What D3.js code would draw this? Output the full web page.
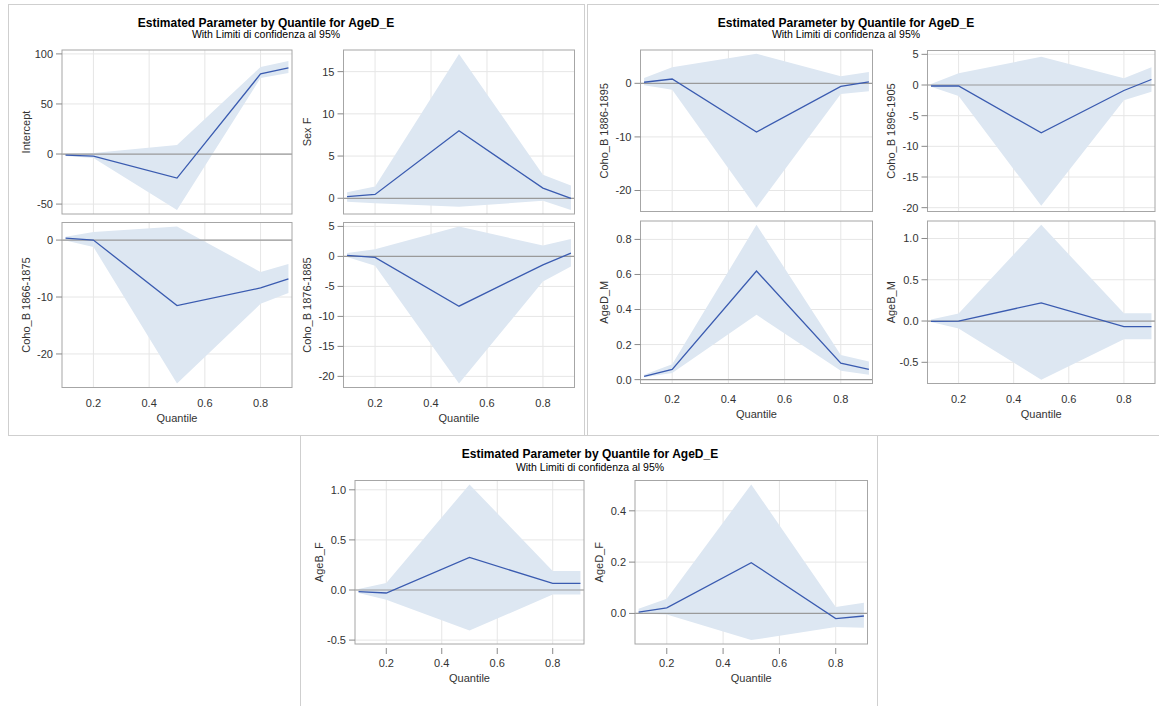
<!DOCTYPE html>
<meta charset="utf-8">
<script src="https://d3js.org/d3.v7.min.js"></script>
<style>
  body { margin: 0; background: #fff; }
  text { font-family: "Liberation Sans", Arial, sans-serif; }
</style>
<div id="chart"></div>
<script>

// quantile levels and x ticks
const quantiles = [0.1, 0.2, 0.5, 0.8, 0.9];
const xTicks = [0.2, 0.4, 0.6, 0.8];

const title = "Estimated Parameter by Quantile for AgeD_E";
const subtitle = "With Limiti di confidenza al 95%";

// estimate, lower and upper 95% limits per parameter
const interceptEst = [-1, -2, -24, 80, 86];
const interceptLo  = [-2, -4, -56, 76, 81];
const interceptHi  = [0, 1, 9, 87, 93];
const interceptTicks = [-50, 0, 50, 100];

const sexFEst = [0.2, 0.45, 8.0, 1.2, 0.0];
const sexFLo  = [-0.4, -0.6, -1.0, -0.3, -1.4];
const sexFHi  = [0.7, 1.4, 17.1, 2.8, 1.5];
const sexFTicks = [0, 5, 10, 15];

const coho1866Est = [0.35, 0.0, -11.5, -8.4, -6.8];
const coho1866Lo  = [-0.05, -1.2, -25.2, -11.2, -9.3];
const coho1866Hi  = [0.6, 1.4, 2.4, -5.6, -4.2];
const coho1866Ticks = [-20, -10, 0];

const coho1876Est = [0.17, -0.17, -8.3, -1.4, 0.55];
const coho1876Lo  = [-0.1, -1.55, -21.2, -4.2, -1.7];
const coho1876Hi  = [0.55, 1.2, 5.0, 1.8, 2.9];
const coho1876Ticks = [-20, -15, -10, -5, 0, 5];

const coho1886Est = [0.2, 0.8, -9.1, -0.56, 0.25];
const coho1886Lo  = [-0.37, -1.2, -23.2, -2.0, -1.5];
const coho1886Hi  = [1.0, 3.0, 5.5, 1.3, 2.1];
const coho1886Ticks = [-20, -10, 0];

const coho1896Est = [-0.16, -0.16, -7.8, -0.9, 0.9];
const coho1896Lo  = [-0.3, -1.8, -19.7, -2.5, -1.1];
const coho1896Hi  = [0.15, 1.9, 4.6, 1.1, 2.9];
const coho1896Ticks = [-20, -15, -10, -5, 0, 5];

const ageDMEst = [0.019, 0.058, 0.62, 0.094, 0.058];
const ageDMLo  = [0.013, 0.038, 0.37, 0.05, 0.028];
const ageDMHi  = [0.028, 0.088, 0.883, 0.141, 0.103];
const ageDMTicks = [0.0, 0.2, 0.4, 0.6, 0.8];

const ageBMEst = [-0.003, 0.0, 0.22, -0.068, -0.068];
const ageBMLo  = [-0.012, -0.09, -0.71, -0.22, -0.22];
const ageBMHi  = [0.02, 0.09, 1.165, 0.093, 0.093];
const ageBMTicks = [-0.5, 0.0, 0.5, 1.0];

const ageBFEst = [-0.017, -0.03, 0.325, 0.066, 0.066];
const ageBFLo  = [-0.03, -0.096, -0.405, -0.046, -0.046];
const ageBFHi  = [0.01, 0.07, 1.054, 0.19, 0.19];
const ageBFTicks = [-0.5, 0.0, 0.5, 1.0];

const ageDFEst = [0.005, 0.022, 0.198, -0.02, -0.01];
const ageDFLo  = [0.0, -0.004, -0.104, -0.053, -0.056];
const ageDFHi  = [0.018, 0.057, 0.503, 0.025, 0.042];
const ageDFTicks = [0.0, 0.2, 0.4];

// group boxes and their title centres
const groups = [
  {box: [8.5, 4.5, 584.5, 435.5], cx: 266, ty: 27, sy: 38},
  {box: [587.5, 4.5, 1162, 435.5], cx: 846, ty: 27, sy: 38},
  {box: [300.5, 435.5, 877.5, 712], cx: 590, ty: 458, sy: 471}
];

// panels: frame = [x0, y0, x1, y1]
const panels = [
  {label: "Intercept", est: interceptEst, lo: interceptLo, hi: interceptHi, ticks: interceptTicks, dec: false, frame: [62, 50, 292, 214], xAxis: false},
  {label: "Sex F", est: sexFEst, lo: sexFLo, hi: sexFHi, ticks: sexFTicks, dec: false, frame: [343.5, 50, 574.5, 214], xAxis: false},
  {label: "Coho_B 1866-1875", est: coho1866Est, lo: coho1866Lo, hi: coho1866Hi, ticks: coho1866Ticks, dec: false, frame: [62, 222.5, 292, 387.5], xAxis: true},
  {label: "Coho_B 1876-1885", est: coho1876Est, lo: coho1876Lo, hi: coho1876Hi, ticks: coho1876Ticks, dec: false, frame: [343.5, 222.5, 574.5, 387.5], xAxis: true},
  {label: "Coho_B 1886-1895", est: coho1886Est, lo: coho1886Lo, hi: coho1886Hi, ticks: coho1886Ticks, dec: false, frame: [640.5, 50, 872.5, 211.5], xAxis: false},
  {label: "Coho_B 1896-1905", est: coho1896Est, lo: coho1896Lo, hi: coho1896Hi, ticks: coho1896Ticks, dec: false, frame: [927.5, 50.5, 1155, 211.5], xAxis: false},
  {label: "AgeD_M", est: ageDMEst, lo: ageDMLo, hi: ageDMHi, ticks: ageDMTicks, dec: true, frame: [640.5, 221, 872.5, 383.5], xAxis: true},
  {label: "AgeB_M", est: ageBMEst, lo: ageBMLo, hi: ageBMHi, ticks: ageBMTicks, dec: true, frame: [927.5, 221, 1155, 383.5], xAxis: true},
  {label: "AgeB_F", est: ageBFEst, lo: ageBFLo, hi: ageBFHi, ticks: ageBFTicks, dec: true, frame: [355, 480.5, 584, 644], xAxis: true, xTickMarks: true},
  {label: "AgeD_F", est: ageDFEst, lo: ageDFLo, hi: ageDFHi, ticks: ageDFTicks, dec: true, frame: [635, 480.5, 867.5, 644], xAxis: true, xTickMarks: true}
];

const W = 1159, H = 706;
const svg = d3.select("#chart").append("svg")
  .attr("width", W).attr("height", H);

// group borders and titles
groups.forEach(g => {
  const [x0, y0, x1, y1] = g.box;
  svg.append("rect")
    .attr("x", x0).attr("y", y0)
    .attr("width", x1 - x0).attr("height", y1 - y0)
    .attr("fill", "none").attr("stroke", "#cfcfcf");
  svg.append("text")
    .attr("x", g.cx).attr("y", g.ty)
    .attr("text-anchor", "middle")
    .style("font-size", "12px").style("font-weight", "bold")
    .attr("fill", "#000")
    .text(title);
  svg.append("text")
    .attr("x", g.cx).attr("y", g.sy)
    .attr("text-anchor", "middle")
    .style("font-size", "10.5px")
    .attr("fill", "#000")
    .text(subtitle);
});

const xPad = 0.016 * (quantiles[quantiles.length - 1] - quantiles[0]);

panels.forEach(p => {
  const [x0, y0, x1, y1] = p.frame;
  const g = svg.append("g");

  const x = d3.scaleLinear()
    .domain([quantiles[0] - xPad, quantiles[quantiles.length - 1] + xPad])
    .range([x0, x1]);

  // y domain covers data and ticks, with a small margin
  const all = p.lo.concat(p.hi, p.est, p.ticks);
  const ext = d3.extent(all);
  const pad = (ext[1] - ext[0]) * 0.025;
  const y = d3.scaleLinear()
    .domain([ext[0] - pad, ext[1] + pad])
    .range([y1, y0]);

  const fmt = d => p.dec ? d.toFixed(1) : String(d);

  // grid
  g.selectAll(".gx").data(xTicks).join("line")
    .attr("x1", d => x(d)).attr("x2", d => x(d))
    .attr("y1", y0).attr("y2", y1)
    .attr("stroke", "#e6e6e6");
  g.selectAll(".gy").data(p.ticks).join("line")
    .attr("x1", x0).attr("x2", x1)
    .attr("y1", d => y(d)).attr("y2", d => y(d))
    .attr("stroke", "#e6e6e6");

  // confidence band
  const rows = quantiles.map((q, i) => ({q: q, est: p.est[i], lo: p.lo[i], hi: p.hi[i]}));
  g.append("path")
    .datum(rows)
    .attr("fill", "#dde7f2")
    .attr("d", d3.area().x(d => x(d.q)).y0(d => y(d.lo)).y1(d => y(d.hi)));

  // zero reference
  g.append("line")
    .attr("x1", x0).attr("x2", x1)
    .attr("y1", y(0)).attr("y2", y(0))
    .attr("stroke", "#9a9a9a").attr("stroke-width", 1.2);

  // estimate
  g.append("path")
    .datum(rows)
    .attr("fill", "none")
    .attr("stroke", "#3a5bb0")
    .attr("stroke-width", 1.3)
    .attr("d", d3.line().x(d => x(d.q)).y(d => y(d.est)));

  // frame
  g.append("rect")
    .attr("x", x0).attr("y", y0)
    .attr("width", x1 - x0).attr("height", y1 - y0)
    .attr("fill", "none").attr("stroke", "#a6a6a6");

  // y axis ticks and labels
  g.selectAll(".ty").data(p.ticks).join("line")
    .attr("x1", x0 - 6).attr("x2", x0)
    .attr("y1", d => y(d)).attr("y2", d => y(d))
    .attr("stroke", "#8a8a8a");
  g.selectAll(".ly").data(p.ticks).join("text")
    .attr("x", x0 - 9).attr("y", d => y(d))
    .attr("dy", "0.36em")
    .attr("text-anchor", "end")
    .style("font-size", "11px")
    .attr("fill", "#333")
    .text(fmt);

  g.append("text")
    .attr("transform", `translate(${x0 - 36},${(y0 + y1) / 2}) rotate(-90)`)
    .attr("text-anchor", "middle")
    .attr("dy", "0.36em")
    .style("font-size", "11px")
    .attr("fill", "#333")
    .text(p.label);

  // x axis
  if (p.xAxis) {
    const off = p.xTickMarks ? 3.5 : 0;
    if (p.xTickMarks) {
      g.selectAll(".tx").data(xTicks).join("line")
        .attr("x1", d => x(d)).attr("x2", d => x(d))
        .attr("y1", y1 + 4).attr("y2", y1 + 10)
        .attr("stroke", "#8a8a8a");
    }
    g.selectAll(".lx").data(xTicks).join("text")
      .attr("x", d => x(d)).attr("y", y1 + 19 + off)
      .attr("text-anchor", "middle")
      .style("font-size", "11px")
      .attr("fill", "#333")
      .text(d => d.toFixed(1));
    g.append("text")
      .attr("x", (x0 + x1) / 2).attr("y", y1 + 34.5 + off)
      .attr("text-anchor", "middle")
      .style("font-size", "11px")
      .attr("fill", "#333")
      .text("Quantile");
  }
});

</script>
